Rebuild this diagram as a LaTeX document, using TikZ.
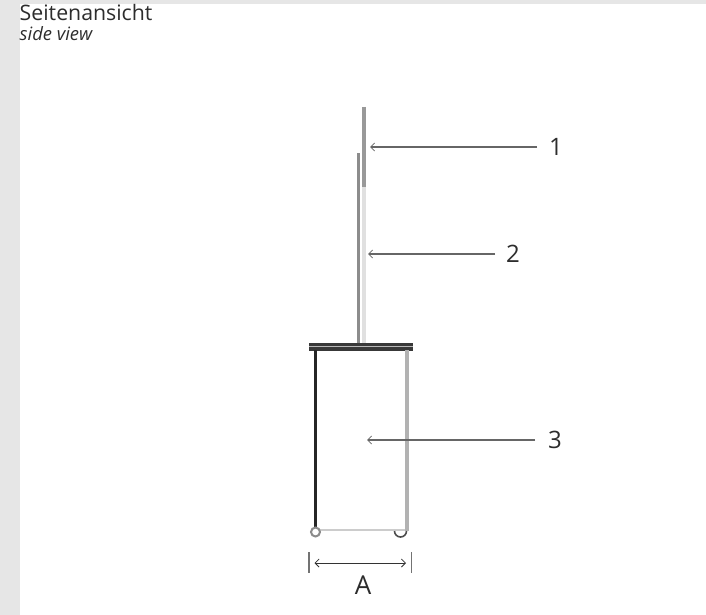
\documentclass[tikz,border=0pt]{standalone}
\usepackage{fontspec}
\setmainfont{Open Sans}
\usetikzlibrary{arrows.meta}
\definecolor{bandgrey}{RGB}{230,230,230}
\definecolor{inktext}{RGB}{45,45,45}
\tikzset{
 x=1pt,y=-1pt,
 callout/.style={draw=black!60,line width=1.1pt,-{Straight Barb[length=4pt,width=8pt,line width=0.8pt]}},
 dimline/.style={draw=black!80,line width=1pt,{Straight Barb[length=4pt,width=8pt,line width=0.8pt]}-{Straight Barb[length=4pt,width=8pt,line width=0.8pt]}},
 numlabel/.style={inner sep=0pt,text=inktext,font=\fontsize{24}{24}\selectfont},
 heading/.style={inner sep=0pt,anchor=base west,text=inktext},
}
\begin{document}
\begin{tikzpicture}
\useasboundingbox (0,0) rectangle (706,615);
\fill[white] (0,0) rectangle (706,615);
\fill[bandgrey] (0,0) rectangle (706,4);
\fill[bandgrey] (0,0) rectangle (19.5,615);
\node[heading,font=\fontsize{21.3}{21}\selectfont] (title) at (19.5,20.7) {Seitenansicht};
\node[heading,font=\fontsize{18.4}{18}\itshape\selectfont] (subtitle) at (19.5,41) {side view};
% upper tube
\draw[draw=black!40,line width=3.4pt] (364,107) -- (364,187);
\draw[draw=black!12,line width=3.4pt] (364,187) -- (364,343);
% lower tube
\draw[draw=black!45,line width=2.7pt] (358.5,153) -- (358.5,343);
% top plate
\fill[black!78] (309,343.3) rectangle (413,350.5);
\fill[black!28] (309,346) rectangle (413,347.2);
% legs
\draw[draw=black!85,line width=2.7pt] (315.2,350) -- (315.2,529);
\draw[draw=black!30,line width=3.6pt] (406.8,350) -- (406.8,531);
\draw[draw=black!20,line width=2.4pt] (318,530) -- (405,530);
% wheels
\draw[draw=black!45,line width=2pt,fill=white] (315.5,532) circle (4.5);
\draw[draw=black!70,line width=1.6pt] (394.5,531) arc (180:0:6);
% callouts
\coordinate (c1s) at (537,147); \coordinate (c1e) at (370,147);
\coordinate (c2s) at (495,254); \coordinate (c2e) at (368,254);
\coordinate (c3s) at (535,440); \coordinate (c3e) at (367,440);
\draw[callout] (c1s) -- (c1e);
\draw[callout] (c2s) -- (c2e);
\draw[callout] (c3s) -- (c3e);
\node[numlabel] (n1) at (556,147) {1};
\node[numlabel] (n2) at (513,254) {2};
\node[numlabel] (n3) at (555,440) {3};
% dimension
\draw[draw=black!55,line width=1.2pt] (309,552) -- (309,573);
\draw[draw=black!55,line width=1.2pt] (411.5,552) -- (411.5,573);
\draw[dimline] (314.5,563) -- (406,563);
\node[numlabel,font=\fontsize{26}{26}\selectfont] (dimA) at (363,585) {A};
\end{tikzpicture}
\end{document}
